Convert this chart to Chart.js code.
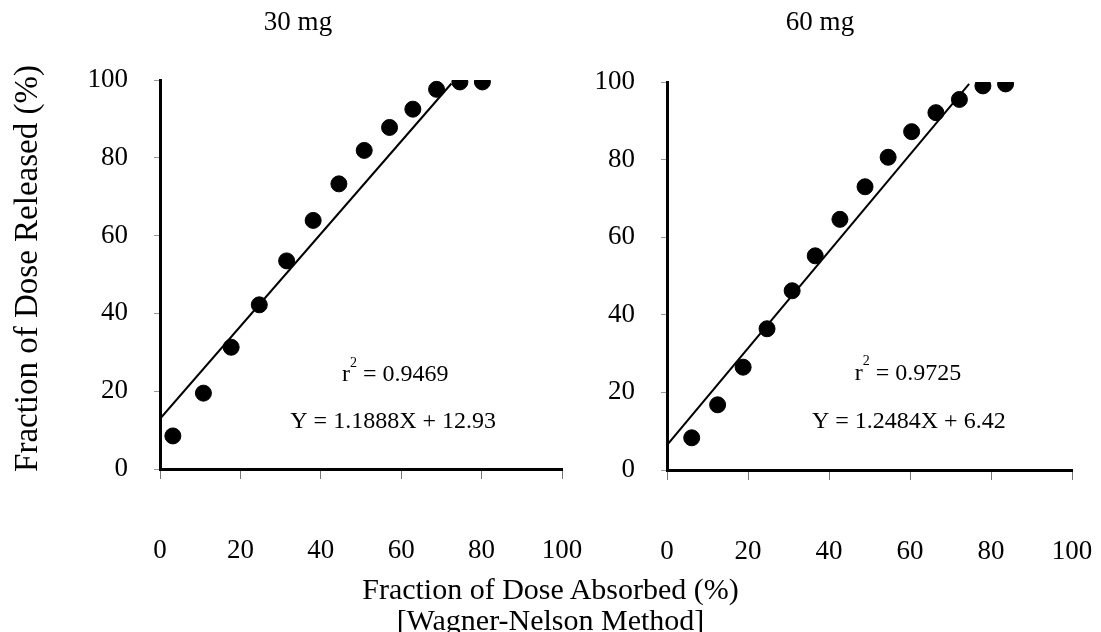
<!DOCTYPE html>
<html>
<head>
<meta charset="utf-8">
<script src="https://cdn.jsdelivr.net/npm/chart.js@4.4.1/dist/chart.umd.min.js"></script>
<style>
body { margin: 0; background: #fff; width: 1101px; height: 632px; overflow: hidden; position: relative; font-family: "Liberation Serif", serif; }
#wrap30 { position: absolute; left: 0; top: 0; width: 596px; height: 632px; }
#wrap60 { position: absolute; left: 539px; top: 0; width: 562px; height: 632px; }
#xtitle { position: absolute; left: 0; top: 573px; width: 1101px; text-align: center; font-size: 30px; line-height: 31px; color: #000; }
</style>
</head>
<body>
<div id="wrap30"><canvas id="c30"></canvas></div>
<div id="wrap60"><canvas id="c60"></canvas></div>
<div id="xtitle">Fraction of Dose Absorbed (%)<br>[Wagner-Nelson Method]</div>
<script>
// values
const absorbed30 = [3.2, 10.8, 17.7, 24.7, 31.5, 38.1, 44.5, 50.8, 57.1, 62.9, 68.8, 74.6, 80.2];
const released30 = [8.5, 19.5, 31.3, 42.2, 53.5, 63.9, 73.3, 81.9, 87.8, 92.5, 97.6, 99.5, 99.5];
const fitX30 = [0, 72.5];
const fitY30 = [12.9, 99.1];

const absorbed60 = [6.1, 12.5, 18.8, 24.7, 30.9, 36.6, 42.7, 48.9, 54.6, 60.4, 66.4, 72.2, 78.0, 83.6];
const released60 = [8.3, 16.8, 26.5, 36.4, 46.2, 55.2, 64.6, 73.0, 80.6, 87.2, 92.1, 95.5, 99.0, 99.5];
const fitX60 = [0, 74.6];
const fitY60 = [6.4, 99.5];

const tickValues = [0, 20, 40, 60, 80, 100];

Chart.defaults.font.family = '"Liberation Serif", serif';
Chart.defaults.color = '#000';

function pts(xs, ys) {
	return xs.map(function (x, i) { return { x: x, y: ys[i] }; });
}

// r^2 and equation text, plus the shared y title
const notesPlugin = {
	id: 'notes',
	afterDatasetsDraw(chart, args, opts) {
		let ctx = chart.ctx;
		let sx = chart.scales.x, sy = chart.scales.y;
		ctx.save();
		ctx.fillStyle = '#000';
		ctx.textBaseline = 'middle';
		// r squared
		let big = '24px "Liberation Serif"', small = '14px "Liberation Serif"';
		ctx.font = big;
		let wR = ctx.measureText('r').width;
		let wRest = ctx.measureText(' = ' + opts.r2).width;
		ctx.font = small;
		let w2 = ctx.measureText('2').width;
		let cx = sx.getPixelForValue(opts.r2Pos[0]);
		let cy = sy.getPixelForValue(opts.r2Pos[1]);
		let x0 = cx - (wR + w2 + wRest) / 2;
		ctx.textAlign = 'left';
		ctx.font = big;
		ctx.fillText('r', x0, cy);
		ctx.font = small;
		ctx.fillText('2', x0 + wR, cy - 12);
		ctx.font = big;
		ctx.fillText(' = ' + opts.r2, x0 + wR + w2, cy);
		// equation
		ctx.textAlign = 'center';
		ctx.fillText(opts.eq, sx.getPixelForValue(opts.eqPos[0]), sy.getPixelForValue(opts.eqPos[1]));
		if (opts.yTitle) {
			let a = chart.chartArea;
			ctx.translate(28, (a.top + a.bottom) / 2 - 6);
			ctx.rotate(-Math.PI / 2);
			ctx.font = '33px "Liberation Serif"';
			ctx.fillText(opts.yTitle, 0, 0);
		}
		ctx.restore();
	}
};

function makeChart(id, xs, ys, fx, fy, title, notes, axisW, top, bottom, padRight) {
	let ctx = document.getElementById(id).getContext('2d');
	let chart = null;
	chart = new Chart(ctx, {
		type: 'scatter',
		data: {
			datasets: [{
				data: pts(xs, ys),
				backgroundColor: '#000',
				borderColor: '#000',
				pointRadius: 8,
				pointHoverRadius: 8
			}, {
				data: pts(fx, fy),
				showLine: true,
				borderColor: '#000',
				borderWidth: 2,
				pointRadius: 0,
				fill: false
			}]
		},
		options: {
			responsive: true,
			maintainAspectRatio: false,
			animation: false,
			layout: { padding: 0 },
			plugins: {
				legend: { display: false },
				tooltip: { enabled: false },
				title: {
					display: true,
					text: title,
					font: { size: 27, weight: 'normal' },
					padding: { top: 7, bottom: top - 7 - 32.4 }
				},
				notes: notes
			},
			scales: {
				x: {
					type: 'linear',
					min: 0,
					max: 100,
					afterBuildTicks: function (s) { s.ticks = tickValues.map(function (v) { return { value: v }; }); },
					afterFit: function (s) {
						s.height = 632 - bottom;
						s.paddingLeft = 0;
						s.paddingRight = padRight;
					},
					grid: { display: true, drawOnChartArea: false, drawTicks: true, tickLength: 10, color: '#777', lineWidth: 1 },
					border: { display: true, color: '#000', width: 3 },
					ticks: { font: { size: 27 }, padding: 56, maxRotation: 0 }
				},
				y: {
					type: 'linear',
					min: 0,
					max: 100,
					afterBuildTicks: function (s) { s.ticks = tickValues.map(function (v) { return { value: v }; }); },
					afterFit: function (s) { s.width = axisW; },
					grid: { display: true, drawOnChartArea: false, drawTicks: true, tickLength: 6, color: '#999', lineWidth: 1 },
					border: { display: true, color: '#000', width: 3 },
					ticks: { font: { size: 27 }, padding: 26 }
				}
			}
		},
		plugins: [notesPlugin]
	});
	return chart;
}

makeChart('c30', absorbed30, released30, fitX30, fitY30, '30 mg',
	{ r2: '0.9469', r2Pos: [58.5, 24.2], eq: 'Y = 1.1888X + 12.93', eqPos: [58, 12.1], yTitle: 'Fraction of Dose Released (%)' },
	160, 80, 469, 34);
makeChart('c60', absorbed60, released60, fitX60, fitY60, '60 mg',
	{ r2: '0.9725', r2Pos: [59.5, 24.9], eq: 'Y = 1.2484X + 6.42', eqPos: [59.7, 12.4] },
	128, 82, 470, 29);
</script>
</body>
</html>
